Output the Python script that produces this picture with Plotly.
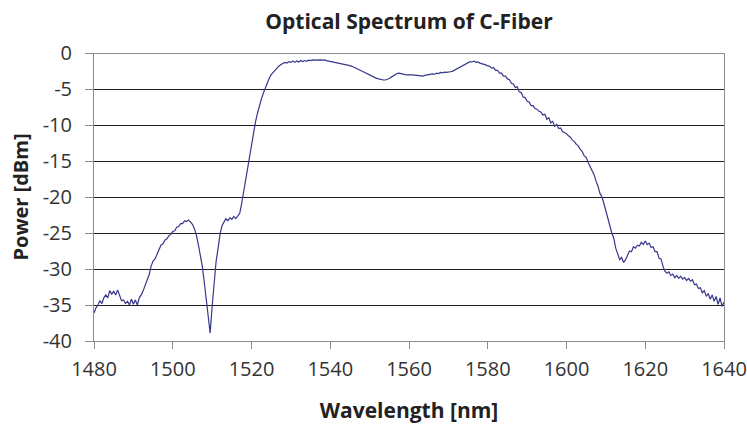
import plotly.graph_objects as go

# Optical spectrum of C-band fiber, sampled every 0.5 nm from 1480 nm
start_nm = 1480.0
step_nm = 0.5

power_dbm = [
    # 1480-1490
    -36.1, -35.4, -35.0, -34.4, -34.8, -34.0, -33.6, -34.0, -33.0, -33.5,
    -33.1, -33.6, -32.9, -33.8, -34.4, -34.3, -34.8, -34.5, -35.0, -34.2,
    # 1490-1500
    -34.9, -34.3, -35.0, -34.0, -33.6, -33.0, -32.3, -31.4, -30.8, -29.6,
    -28.9, -28.6, -28.0, -27.3, -26.7, -26.5, -26.0, -25.8, -25.4, -25.2,
    # 1500-1510
    -24.8, -24.7, -24.2, -24.1, -23.7, -23.7, -23.3, -23.4, -23.2, -23.5,
    -23.8, -24.4, -25.3, -26.6, -27.9, -29.6, -31.8, -34.2, -36.8, -38.9,
    # 1510-1520
    -35.2, -31.6, -29.0, -27.2, -25.2, -24.0, -23.5, -23.0, -23.3, -22.9,
    -23.1, -22.7, -23.0, -22.6, -22.3, -20.9, -19.3, -17.9, -15.7, -14.6,
    # 1520-1530
    -12.5, -10.9, -9.6, -8.4, -7.3, -6.4, -5.6, -4.8, -4.1, -3.5,
    -3.0, -2.7, -2.3, -2.0, -1.8, -1.6, -1.5, -1.3, -1.4, -1.2,
    # 1530-1540
    -1.3, -1.1, -1.3, -1.1, -1.25, -1.05, -1.2, -1.05, -1.15, -1.0,
    -1.05, -0.95, -1.0, -0.95, -0.95, -0.95, -1.0, -0.95, -1.05, -1.1,
    # 1540-1550
    -1.15, -1.2, -1.25, -1.3, -1.35, -1.45, -1.5, -1.55, -1.6, -1.7,
    -1.75, -1.85, -1.95, -2.05, -2.2, -2.35, -2.5, -2.65, -2.8, -2.95,
    # 1550-1560
    -3.1, -3.2, -3.35, -3.45, -3.55, -3.65, -3.7, -3.75, -3.75, -3.7,
    -3.55, -3.35, -3.15, -2.95, -2.85, -2.8, -2.9, -3.0, -3.0, -3.05,
    # 1560-1570
    -3.0, -3.05, -3.05, -3.1, -3.1, -3.15, -3.2, -3.2, -3.1, -3.05,
    -2.95, -3.0, -2.9, -2.95, -2.8, -2.85, -2.7, -2.75, -2.65, -2.7,
    # 1570-1580
    -2.6, -2.6, -2.55, -2.4, -2.25, -2.1, -1.9, -1.75, -1.55, -1.4,
    -1.35, -1.2, -1.25, -1.15, -1.3, -1.25, -1.4, -1.45, -1.6, -1.65,
    # 1580-1590
    -1.8, -1.85, -2.1, -2.05, -2.4, -2.4, -2.8, -2.8, -3.2, -3.2,
    -3.6, -3.7, -4.2, -4.3, -4.8, -4.7, -5.4, -5.5, -6.1, -6.2,
    # 1590-1600
    -6.7, -6.8, -7.3, -7.3, -7.7, -7.8, -8.1, -8.2, -8.6, -8.5,
    -9.2, -9.0, -9.7, -9.5, -10.2, -9.9, -10.5, -10.4, -10.9, -11.0,
    # 1600-1610
    -11.2, -11.5, -11.7, -12.1, -12.3, -12.7, -12.9, -13.4, -13.7, -14.3,
    -14.5, -15.2, -15.7, -16.3, -16.9, -17.8, -18.5, -19.5, -20.0, -20.9,
    # 1610-1620
    -22.0, -23.2, -24.1, -25.0, -25.7, -27.1, -27.9, -28.7, -28.4, -29.1,
    -28.7, -28.0, -27.5, -27.6, -26.9, -27.1, -26.7, -26.8, -26.3, -26.6,
    # 1620-1630
    -26.1, -26.6, -26.4, -27.0, -26.9, -27.6, -27.6, -28.5, -28.6, -29.6,
    -30.3, -30.6, -30.4, -30.9, -30.7, -31.2, -30.9, -31.3, -31.0, -31.4,
    # 1630-1640
    -31.2, -31.6, -31.3, -31.7, -31.5, -32.2, -32.1, -32.7, -32.6, -33.3,
    -33.0, -33.8, -33.4, -34.2, -33.6, -34.5, -33.8, -34.9, -34.0, -35.2,
    -34.6,
]

wavelength_nm = [start_nm + step_nm * i for i in range(len(power_dbm))]

x_ticks = [1480, 1500, 1520, 1540, 1560, 1580, 1600, 1620, 1640]
y_ticks = [0, -5, -10, -15, -20, -25, -30, -35, -40]

FONT = "Open Sans"
GRID = "#1e1e1e"
AXIS = "#8c8c8c"

fig = go.Figure(
    go.Scatter(
        x=wavelength_nm,
        y=power_dbm,
        mode="lines",
        line=dict(color="#37378c", width=1.2),
        hoverinfo="x+y",
    )
)

fig.update_layout(
    width=747,
    height=427,
    margin=dict(l=94, r=23, t=53, b=86),
    paper_bgcolor="white",
    plot_bgcolor="white",
    showlegend=False,
    font=dict(family=FONT, color="#333333"),
    title=dict(
        text="<b>Optical Spectrum of C-Fiber</b>",
        x=(94 + 724) / 2 / 747,
        xanchor="center",
        y=1 - 22 / 427,
        yanchor="middle",
        font=dict(family=FONT, size=21, color="#222222"),
    ),
    # top gridline at 0 dBm (plotly omits the grid line at the range edge)
    shapes=[
        dict(
            type="line", xref="paper", yref="y",
            x0=0, x1=1, y0=0, y1=0,
            line=dict(color=GRID, width=1),
            layer="below",
        )
    ],
)

fig.update_xaxes(
    range=[1480, 1640],
    tickvals=x_ticks,
    ticktext=[str(v) for v in x_ticks],
    automargin=False,
    showgrid=False,
    zeroline=False,
    showline=True,
    linecolor=AXIS,
    linewidth=1,
    ticks="outside",
    ticklen=7,
    tickcolor=AXIS,
    tickfont=dict(family=FONT, size=20, color="#333333"),
    ticklabelstandoff=3,
    title=dict(
        text="<b>Wavelength [nm]</b>",
        font=dict(family=FONT, size=21, color="#222222"),
        standoff=22,
    ),
)

fig.update_yaxes(
    range=[-40, 0],
    tickvals=y_ticks,
    ticktext=[str(v) for v in y_ticks],
    automargin=False,
    showgrid=True,
    gridcolor=GRID,
    gridwidth=1,
    zeroline=False,
    showline=True,
    mirror=True,
    linecolor=AXIS,
    linewidth=1,
    ticks="outside",
    ticklen=8,
    tickcolor=AXIS,
    tickfont=dict(family=FONT, size=20, color="#333333"),
    ticklabelstandoff=9,
    title=dict(
        text="<b>Power [dBm]</b>",
        font=dict(family=FONT, size=20, color="#222222"),
        standoff=8,
    ),
)

fig.write_html("out.html")
